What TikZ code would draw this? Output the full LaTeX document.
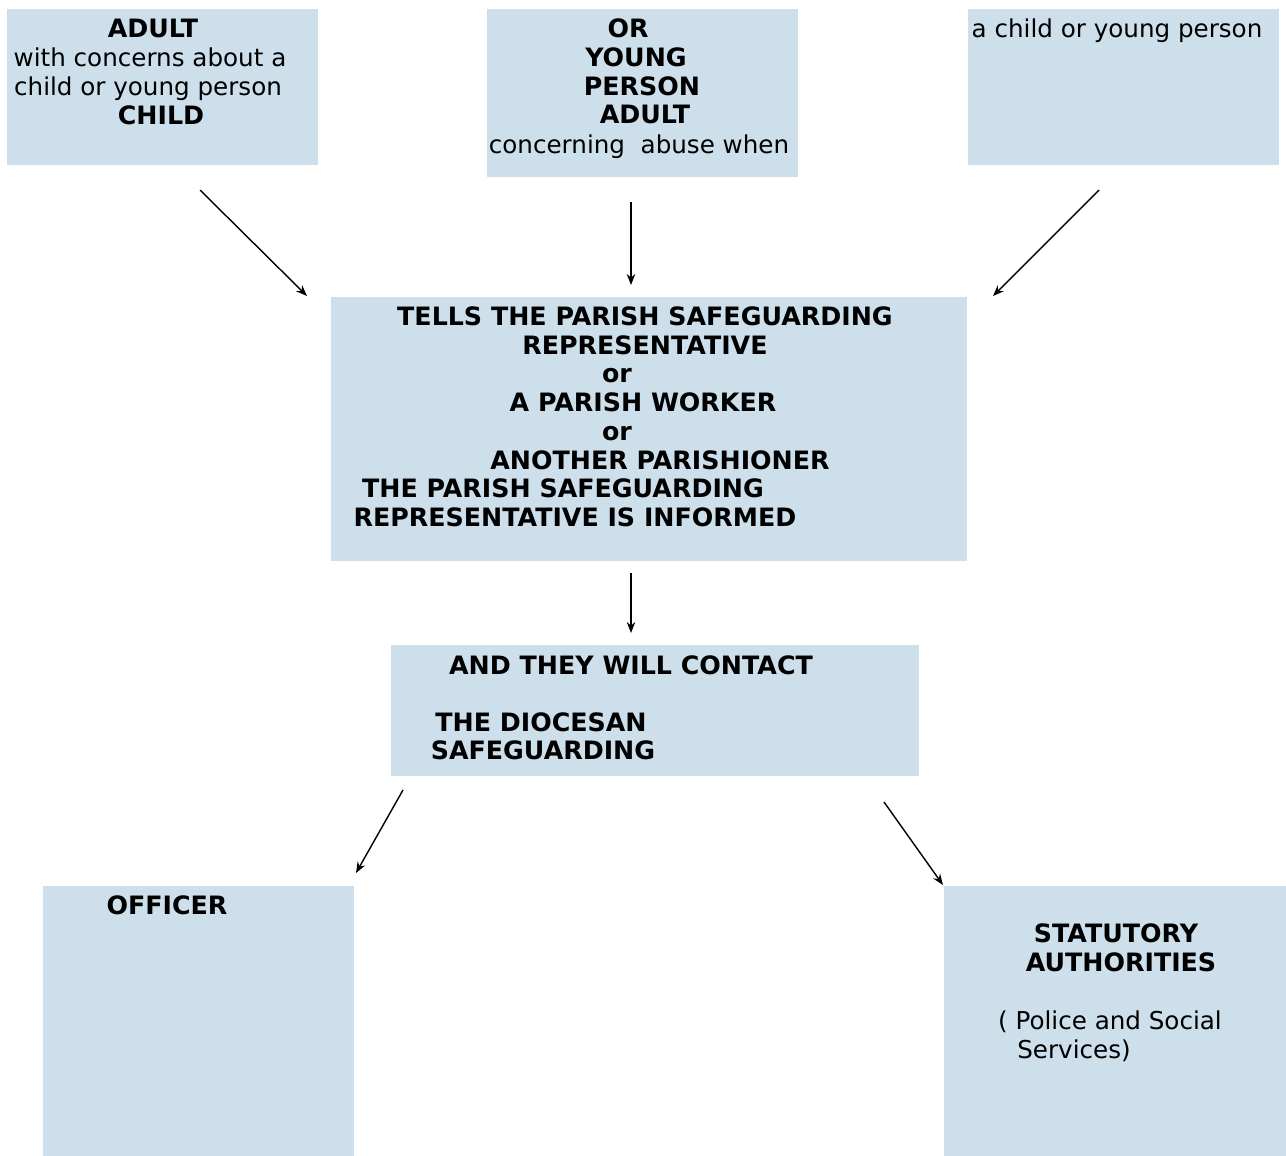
\documentclass[tikz,border=0pt]{standalone}
\usepackage{fontspec}
\setmainfont{DejaVu Sans}
\usetikzlibrary{positioning, arrows.meta}
\definecolor{boxblue}{RGB}{204,223,234}

\begin{document}
\begin{tikzpicture}[
        x=0.02cm, y=-0.02cm,
        panel/.style={rectangle, fill=boxblue, draw=none, anchor=north west, inner sep=0pt},
        txt/.style={anchor=base, inner sep=0pt, font=\fontsize{14}{17}\selectfont},
        head/.style={txt, font=\fontsize{14.4}{17}\selectfont\bfseries},
        flow/.style={-{Stealth[length=2.2mm, width=1.7mm]}, line width=0.8pt},
    ]
    \useasboundingbox (0,0) rectangle (1286,1156);

    % Panels
    \node[panel, minimum width=6.22cm, minimum height=3.12cm] (adult) at (7,9) {};
    \node[panel, minimum width=6.22cm, minimum height=3.36cm] (young) at (487,9) {};
    \node[panel, minimum width=6.22cm, minimum height=3.12cm] (child) at (968,9) {};
    \node[panel, minimum width=12.72cm, minimum height=5.28cm] (tells) at (331,297) {};
    \node[panel, minimum width=10.56cm, minimum height=2.62cm] (contact) at (391,645) {};
    \node[panel, minimum width=6.22cm, minimum height=5.40cm] (officer) at (43,886) {};
    \node[panel, minimum width=6.84cm, minimum height=5.40cm] (statutory) at (944,886) {};

    % Top row
    \node[head] (a1) at (153,37) {ADULT};
    \node[txt] (a2) at (150,66) {with concerns about a};
    \node[txt] (a3) at (148,95) {child or young person};
    \node[head] (a4) at (161,124) {CHILD};

    \node[head] (b1) at (628,37) {OR};
    \node[head] (b2) at (636,66) {YOUNG};
    \node[head] (b3) at (642,95) {PERSON};
    \node[head] (b4) at (645,123) {ADULT};
    \node[txt] (b5) at (639,153) {concerning\ \ abuse when};

    \node[txt] (c1) at (1117,37) {a child or young person};

    % Middle
    \node[head] (t1) at (645,325) {TELLS THE PARISH SAFEGUARDING};
    \node[head] (t2) at (645,354) {REPRESENTATIVE};
    \node[head] (t3) at (617,382) {or};
    \node[head] (t4) at (643,411) {A PARISH WORKER};
    \node[head] (t5) at (617,440) {or};
    \node[head] (t6) at (660,469) {ANOTHER PARISHIONER};
    \node[head] (t7) at (563,497) {THE PARISH SAFEGUARDING};
    \node[head] (t8) at (575,526) {REPRESENTATIVE IS INFORMED};

    \node[head] (e1) at (631,674) {AND THEY WILL CONTACT};
    \node[head] (e2) at (541,731) {THE DIOCESAN};
    \node[head] (e3) at (543,759) {SAFEGUARDING};

    % Bottom row
    \node[head] (f1) at (167,914) {OFFICER};

    \node[head] (g1) at (1116,942) {STATUTORY};
    \node[head] (g2) at (1121,971) {AUTHORITIES};
    \node[txt] (g3) at (1110,1029) {( Police and Social};
    \node[txt] (g4) at (1074,1058) {Services)};

    % Arrow ends
    \coordinate (adultOut) at (200,190);
    \coordinate (youngOut) at (631,202);
    \coordinate (childOut) at (1099,190);
    \coordinate (tellsInL) at (307,296);
    \coordinate (tellsInM) at (631,285);
    \coordinate (tellsInR) at (993,296);
    \coordinate (tellsOut) at (631,573);
    \coordinate (contactIn) at (631,633);
    \coordinate (contactOutL) at (403,790);
    \coordinate (contactOutR) at (884,802);
    \coordinate (officerIn) at (356,873);
    \coordinate (statutoryIn) at (943,885);

    \draw[flow] (adultOut) -- (tellsInL);
    \draw[flow] (youngOut) -- (tellsInM);
    \draw[flow] (childOut) -- (tellsInR);
    \draw[flow] (tellsOut) -- (contactIn);
    \draw[flow] (contactOutL) -- (officerIn);
    \draw[flow] (contactOutR) -- (statutoryIn);
\end{tikzpicture}
\end{document}
